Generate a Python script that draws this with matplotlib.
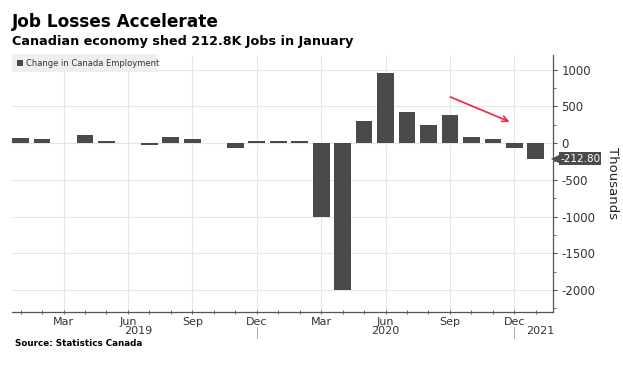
import numpy as np
import matplotlib
matplotlib.use('Agg')
from matplotlib import pyplot as plt
from matplotlib import transforms

# monthly change in employment, thousands (Jan 2019 .. Jan 2021)
months = ['Jan', 'Feb', 'Mar', 'Apr', 'May', 'Jun', 'Jul', 'Aug', 'Sep', 'Oct', 'Nov', 'Dec',
          'Jan', 'Feb', 'Mar', 'Apr', 'May', 'Jun', 'Jul', 'Aug', 'Sep', 'Oct', 'Nov', 'Dec',
          'Jan']
change = [70, 55, -5, 106, 28, -2, -24, 81, 54, 2, -71, 35,
          34, 30, -1011, -1994, 300, 953, 419, 246, 378, 84, 62, -63,
          -212.8]
tick_months = ['Mar', 'Jun', 'Sep', 'Dec']
years = ['2019', '2020', '2021']
last_value = -212.80

x = np.arange(len(change))

fig = plt.figure(figsize=(6.23, 3.83), dpi=100)
W, H = 623, 383
ax = fig.add_axes([12 / W, (H - 312) / H, (553 - 12) / W, (312 - 55) / H])

ax.bar(x, change, width=0.78, color='#4a4a4a', zorder=3)

ax.set_xlim(-0.4, 24.8)
ax.set_ylim(-2300, 1200)

# grid
ax.set_yticks(np.arange(-2000, 1001, 500))
ax.set_yticks(np.arange(-2250, 1200, 250), minor=True)
ax.yaxis.tick_right()
ax.yaxis.set_label_position('right')
ax.set_yticklabels([str(v) for v in np.arange(-2000, 1001, 500)])
ax.tick_params(axis='y', which='major', length=3, width=0.8, color='#555555',
               labelsize=8.5, labelcolor='#333333', pad=3)
ax.tick_params(axis='y', which='minor', length=2, width=0.6, color='#555555')

tick_pos = [i for i, m in enumerate(months) if m in tick_months]
ax.set_xticks(tick_pos)
ax.set_xticklabels([months[i] for i in tick_pos])
ax.set_xticks(x, minor=True)
ax.tick_params(axis='x', which='major', length=3, width=0.6, direction='inout',
               color='#555555', labelsize=8, labelcolor='#333333', pad=2)
ax.tick_params(axis='x', which='minor', length=3, width=0.6, direction='inout', color='#555555')

ax.grid(True, which='major', color='#e6e6e6', lw=0.8, zorder=0)
ax.axhline(0, color='#dddddd', lw=0.8, zorder=1)

for s in ['top', 'left']:
    ax.spines[s].set_visible(False)
for s in ['bottom', 'right']:
    ax.spines[s].set_color('#555555')
    ax.spines[s].set_linewidth(0.9)

ax.set_ylabel('Thousands', rotation=270, fontsize=9.5, color='#222222')
ax.yaxis.set_label_coords(1.122, 0.5)

# year labels and separators
tb = transforms.blended_transform_factory(ax.transData, ax.transAxes)
year_pos = [5.5, 17.0, 24.2]
for yp, yr in zip(year_pos, years):
    ax.text(yp, -0.056, yr, transform=tb, ha='center', va='top', fontsize=8, color='#333333')
for sep in [11, 23]:
    ax.plot([sep, sep], [-0.058, -0.10], transform=tb, color='#aaaaaa', lw=0.7, clip_on=False)

# last value tag
tr = transforms.blended_transform_factory(ax.transAxes, ax.transData)
ax.text(1.013, last_value, '%.2f' % last_value, transform=tr, ha='left', va='center',
        fontsize=7.5, color='white',
        bbox=dict(boxstyle='square,pad=0.12', fc='#4a4a4a', ec='none'))
ax.plot([1.006], [last_value], marker='<', ms=6.5, color='#4a4a4a', transform=tr,
        clip_on=False, markeredgewidth=0)

# red arrow
ax.annotate('', xy=(22.9, 276), xytext=(19.9, 643),
            arrowprops=dict(arrowstyle='->', color='#e8344a', lw=1.3), zorder=4)

# legend box
fig.patches.append(plt.Rectangle((12 / W, (H - 72) / H), 145 / W, 18 / H,
                                 transform=fig.transFigure, fc='#efefef', ec='none'))
fig.patches.append(plt.Rectangle((17 / W, (H - 66) / H), 6 / W, 6 / H,
                                 transform=fig.transFigure, fc='#4a4a4a', ec='none'))
fig.text(26 / W, (H - 63) / H, 'Change in Canada Employment', fontsize=6.0,
         color='#333333', va='center', ha='left')

fig.text(12 / W, (H - 22) / H, 'Job Losses Accelerate', fontsize=12.2, fontweight='bold',
         va='center', ha='left', color='black')
fig.text(12 / W, (H - 42) / H, 'Canadian economy shed 212.8K Jobs in January', fontsize=9.2,
         fontweight='bold', va='center', ha='left', color='black')
fig.text(15 / W, (H - 344) / H, 'Source: Statistics Canada', fontsize=6.3, fontweight='bold',
         va='center', ha='left', color='black')

fig.savefig('out.png', dpi=100, facecolor='white')
